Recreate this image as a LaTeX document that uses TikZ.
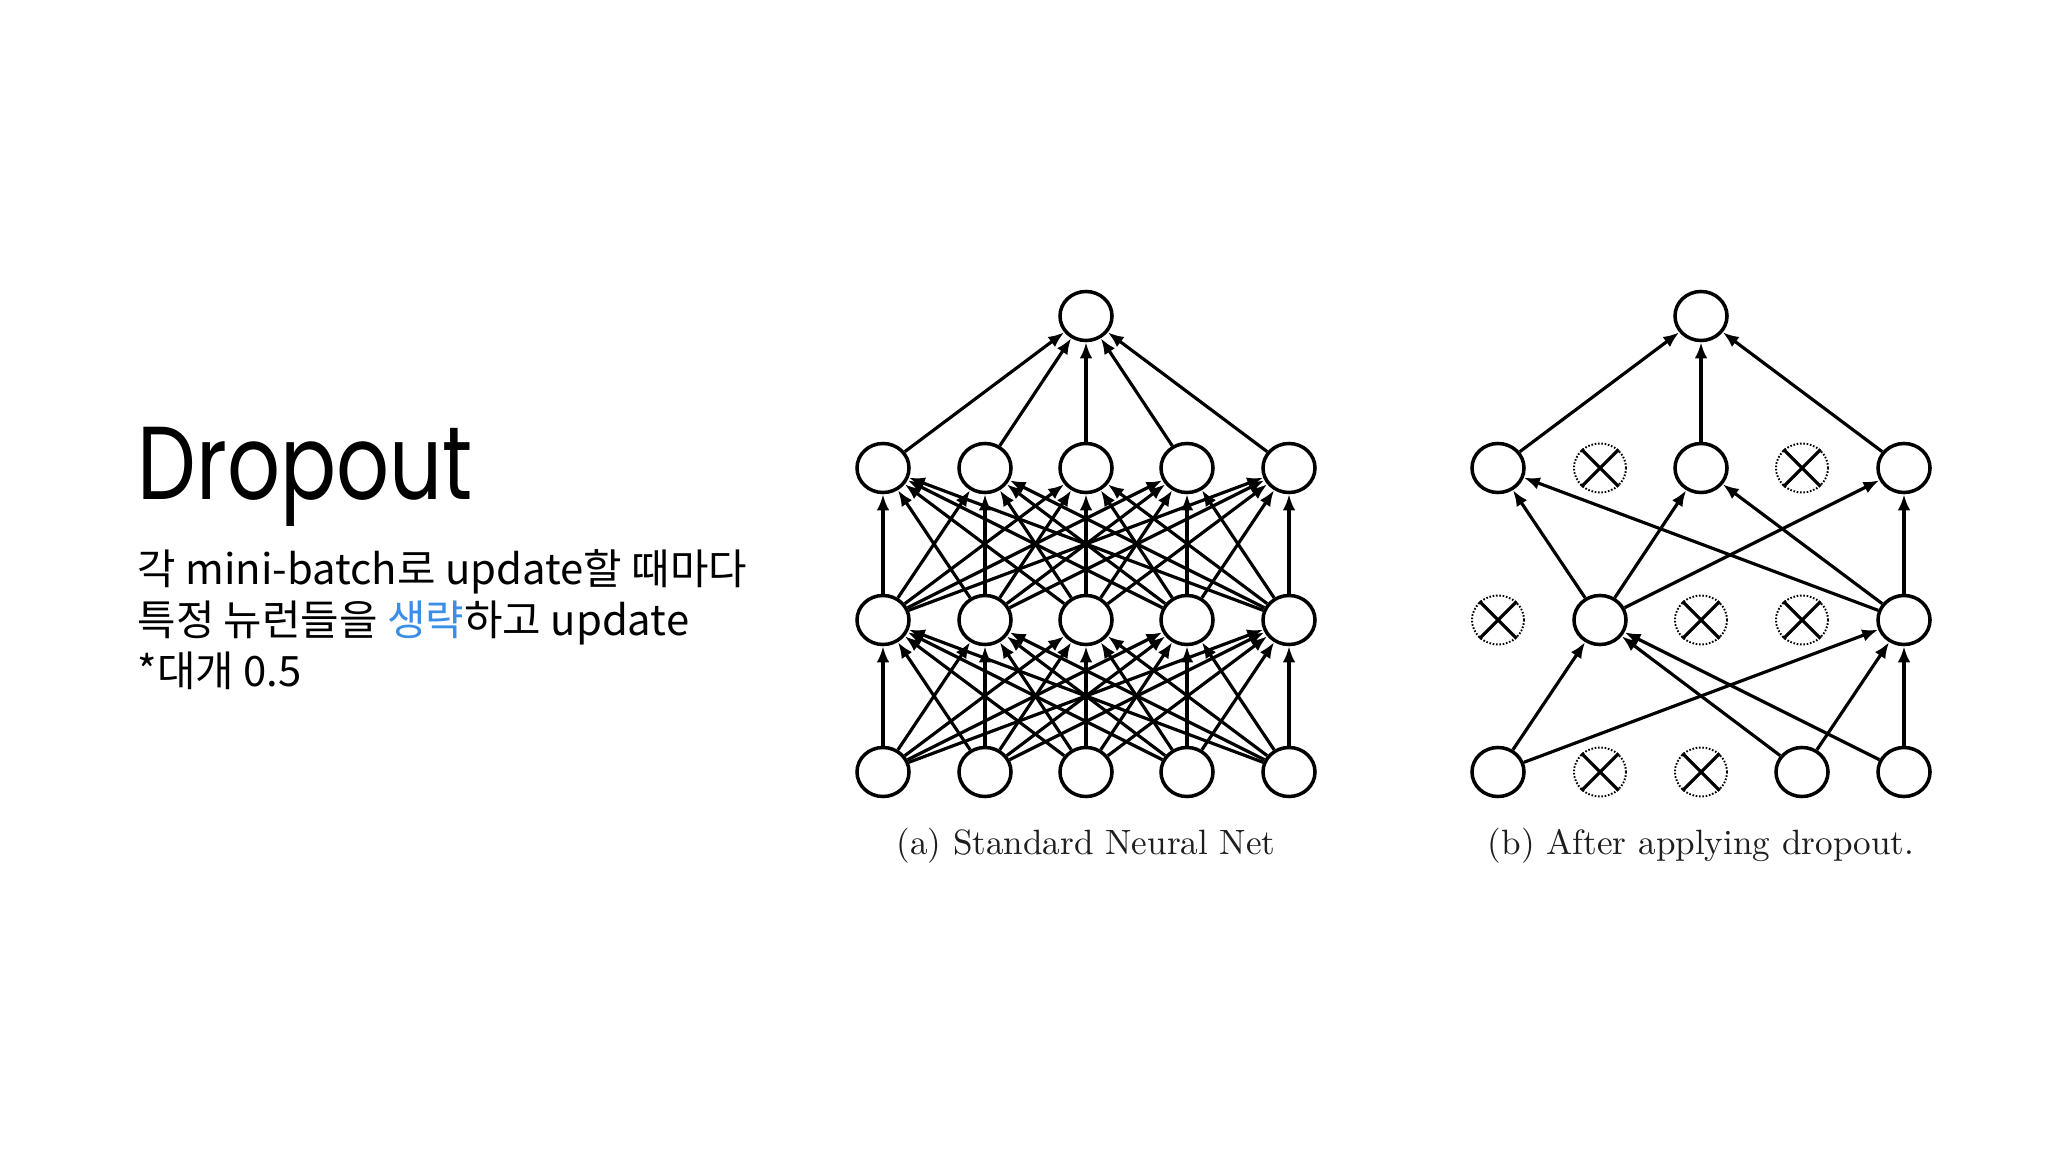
\documentclass[tikz,border=0pt]{standalone}
\usepackage{fontspec}
\usetikzlibrary{arrows.meta,shapes.geometric}
\newfontfamily\krfont{Noto Sans CJK KR}
\newfontfamily\titlefont[FakeStretch=0.8]{Poppins}
\definecolor{omitblue}{RGB}{58,142,230}
\definecolor{captiongray}{RGB}{30,30,30}
\tikzset{
	neuron/.style={draw,ellipse,minimum width=0.52cm,minimum height=0.49cm,inner sep=0pt,line width=1pt,fill=white},
	dropped/.style={neuron,line width=0.55pt,dash pattern=on 0.45pt off 0.5pt},
	caption/.style={text=captiongray,font=\fontsize{10}{12}\selectfont,inner sep=0pt},
	slidetext/.style={anchor=base west,inner sep=0pt,font=\krfont\fontsize{11.9}{14}\selectfont}
}

\begin{document}
\begin{tikzpicture}[>={Latex[length=1.6mm,width=1.25mm]},x=0.01cm,y=-0.01cm,line width=0.9pt]
	\useasboundingbox (0,0) rectangle (2048,1152);

	\node[anchor=base west,inner sep=0pt] (title) at (136,500) {\titlefont\fontsize{29.5}{34}\selectfont Dropout};
	\node[slidetext] (line1) at (136,584) {각 mini-batch로 update할 때마다};
	\node[slidetext] (line2) at (136,635) {특정 뉴런들을 \textcolor{omitblue}{생략}하고 update};
	\node[slidetext] (line3) at (136,686) {*대개 0.5};

	\foreach \i/\x in {1/883,2/985,3/1086,4/1187,5/1289}{
		\node[neuron] (a-in-\i) at (\x,772) {};
		\node[neuron] (a-hA-\i) at (\x,620) {};
		\node[neuron] (a-hB-\i) at (\x,468) {};
	}
	\node[neuron] (a-out) at (1086,316) {};
	\foreach \i in {1,...,5}{
		\foreach \j in {1,...,5}{
			\draw[->] (a-in-\i) -- (a-hA-\j);
			\draw[->] (a-hA-\i) -- (a-hB-\j);
		}
		\draw[->] (a-hB-\i) -- (a-out);
	}
	\node[caption] (a-cap) at (1086,846) {(a) Standard Neural Net};

	\foreach \i/\x/\s/\t/\u in {1/1498/neuron/dropped/neuron,2/1600/dropped/neuron/dropped,3/1701/dropped/dropped/neuron,4/1802/neuron/dropped/dropped,5/1904/neuron/neuron/neuron}{
		\node[\s] (b-in-\i) at (\x,772) {};
		\node[\t] (b-hA-\i) at (\x,620) {};
		\node[\u] (b-hB-\i) at (\x,468) {};
	}
	\node[neuron] (b-out) at (1701,316) {};
	\foreach \n in {b-in-2,b-in-3,b-hA-1,b-hA-3,b-hA-4,b-hB-2,b-hB-4}
		\draw (\n.45) -- (\n.225) (\n.135) -- (\n.315);
	\foreach \i in {1,4,5}{
		\foreach \j in {2,5} \draw[->] (b-in-\i) -- (b-hA-\j);
	}
	\foreach \i in {2,5}{
		\foreach \j in {1,3,5} \draw[->] (b-hA-\i) -- (b-hB-\j);
	}
	\foreach \i in {1,3,5} \draw[->] (b-hB-\i) -- (b-out);
	\node[caption] (b-cap) at (1701,846) {(b) After applying dropout.};
\end{tikzpicture}
\end{document}
